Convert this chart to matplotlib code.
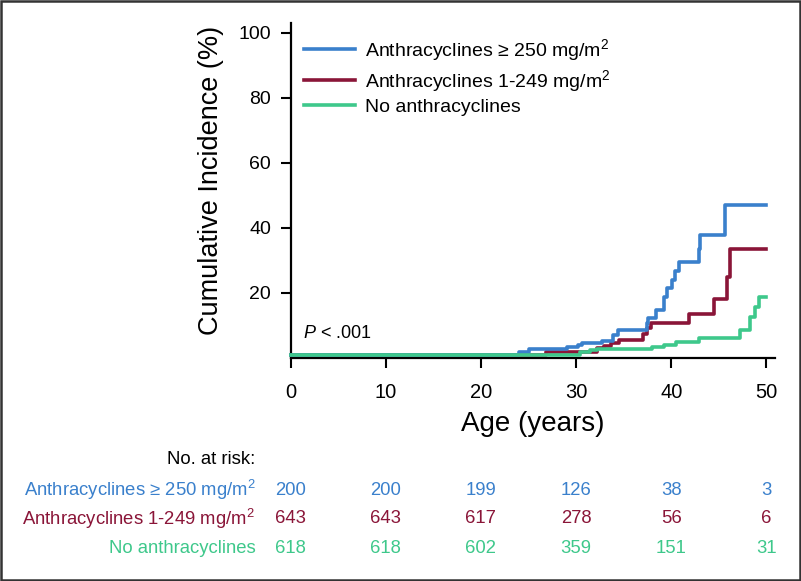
import matplotlib
matplotlib.use('Agg')
import matplotlib.pyplot as plt
import matplotlib.transforms as mtransforms
from matplotlib.patches import Rectangle

plt.rcParams['font.family'] = ['Liberation Sans', 'DejaVu Sans']
plt.rcParams['mathtext.fontset'] = 'custom'
plt.rcParams['mathtext.rm'] = 'Liberation Sans'
plt.rcParams['mathtext.it'] = 'Liberation Sans:italic'

# step curves (age in years, cumulative incidence %)
high_age = [0, 24.0, 25.0, 29.0, 30.2, 30.6, 32.7, 33.9, 34.4, 37.4, 37.6, 38.4,
            39.2, 39.5, 40.1, 40.4, 40.8, 42.9, 43.0, 45.6, 50.0]
high_ci = [0, 0.9, 1.7, 2.4, 3.1, 3.5, 4.2, 6.0, 7.5, 9.6, 11.4, 13.6,
           17.8, 20.4, 23.0, 25.6, 28.6, 32.6, 36.9, 46.2, 46.2]

low_age = [0, 26.8, 32.2, 32.9, 33.7, 34.5, 37.0, 37.4, 37.9, 41.9, 44.5, 45.9, 46.2, 50.0]
low_ci = [0, 0.7, 1.9, 2.7, 3.5, 4.5, 6.3, 8.1, 9.6, 12.5, 17.0, 23.9, 32.5, 32.5]

none_age = [0, 30.4, 31.5, 32.2, 38.0, 39.2, 40.5, 42.9, 47.2, 48.3, 48.8, 49.2, 49.9]
none_ci = [0, 0.9, 1.4, 1.7, 2.3, 2.9, 3.9, 5.1, 7.5, 11.7, 14.7, 17.7, 17.7]

group_labels = ['Anthracyclines \u2265 250 mg/m$^2$',
                'Anthracyclines 1-249 mg/m$^2$',
                'No anthracyclines']
group_colors = ['#3a80cc', '#8a1538', '#3ec88b']

risk_times = [0, 10, 20, 30, 40, 50]
risk_high = [200, 200, 199, 126, 38, 3]
risk_low = [643, 643, 617, 278, 56, 6]
risk_none = [618, 618, 602, 359, 151, 31]

fig = plt.figure(figsize=(8.01, 5.81), dpi=100)
ax = fig.add_axes([0.3627, 0.3845, 0.6049, 0.5759])

# curves sit a few pixels above the x axis line, as in the original
shifted = mtransforms.offset_copy(ax.transData, fig=fig, x=0, y=3, units='dots')

curves = [(high_age, high_ci), (low_age, low_ci), (none_age, none_ci)]
zorders = [3, 2, 4]
for (age, ci), lab, col, z in zip(curves, group_labels, group_colors, zorders):
    ax.step(age, ci, where='post', color=col, lw=2.6, label=lab,
            transform=shifted, zorder=z, clip_on=False)

ax.set_xlim(0, 50.9)
ax.set_ylim(0, 103)
ax.set_xticks(risk_times)
ax.set_yticks([20, 40, 60, 80, 100])
ax.spines['top'].set_visible(False)
ax.spines['right'].set_visible(False)
for s in ['left', 'bottom']:
    ax.spines[s].set_linewidth(1.6)
ax.tick_params(axis='both', length=7, width=1.5, colors='black')
ax.tick_params(axis='x', labelsize=14.5, pad=11)
ax.tick_params(axis='y', labelsize=14, pad=7)

ax.set_xlabel('Age (years)', fontsize=20, labelpad=7)
ax.set_ylabel('Cumulative Incidence (%)', fontsize=19.5)
ax.yaxis.set_label_coords(-0.137, 0.529)

ax.legend(loc='upper left', bbox_to_anchor=(0.028, 0.958), frameon=False,
          fontsize=14, handlelength=2.6, handletextpad=0.55,
          labelspacing=0.25, borderpad=0, borderaxespad=0)

ax.text(1.3, 7.5, '$P$ < .001', fontsize=13, ha='left', va='center')

# number at risk table below the axis
tr = ax.get_xaxis_transform()
ax.text(-3.7, -0.306, 'No. at risk:', transform=tr, ha='right', va='center',
        fontsize=13.3, clip_on=False)
rows = [risk_high, risk_low, risk_none]
row_y = [-0.396, -0.482, -0.571]
for lab, col, vals, yy in zip(group_labels, group_colors, rows, row_y):
    ax.text(-3.7, yy, lab, transform=tr, ha='right', va='center',
            fontsize=13.3, color=col, clip_on=False)
    for t, v in zip(risk_times, vals):
        ax.text(t, yy, str(v), transform=tr, ha='center', va='center',
                fontsize=13.3, color=col, clip_on=False)

fig.patches.append(Rectangle((0.0015, 0.002), 0.997, 0.996, transform=fig.transFigure,
                             fill=False, edgecolor='#333333', lw=1.8))

fig.savefig('out.png', dpi=100)
